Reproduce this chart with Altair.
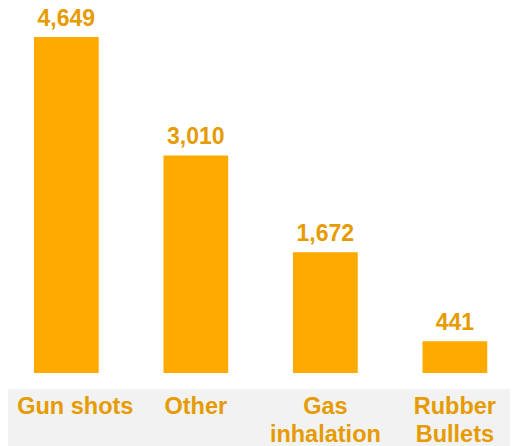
import altair as alt
import pandas as pd

categories = ["Gun shots", "Other", "Gas\ninhalation", "Rubber\nBullets"]
values = [4649, 3010, 1672, 441]
value_labels = ["4,649", "3,010", "1,672", "441"]

df = pd.DataFrame({"cat": categories, "value": values, "vlabel": value_labels})

FONT = "Liberation Sans"
BAR = "#FFAA00"
TXT = "#E69B00"

x = alt.X("cat:N", sort=categories, axis=None,
          scale=alt.Scale(paddingInner=0.5, paddingOuter=0.188, align=0.533))
y = alt.Y("value:Q", axis=None, scale=alt.Scale(domain=[0, 4912], nice=False))

band = alt.Chart(df).mark_rect(color="#F2F2F2", clip=False).encode(
    x=alt.value(-10), x2=alt.value(520), y=alt.value(371), y2=alt.value(450)
)

bars = alt.Chart(df).mark_bar(color=BAR).encode(x=x, y=y)

vals = alt.Chart(df).mark_text(
    font=FONT, fontSize=23, fontWeight="bold", color=TXT,
    baseline="alphabetic", dy=-11
).encode(x=x, y=y, text="vlabel:N")

base_cats = alt.Chart(df)
cats_first = base_cats.transform_filter(alt.datum.cat == categories[0]).mark_text(
    font=FONT, fontSize=23.5, fontWeight="bold", color=TXT,
    baseline="alphabetic", lineBreak="\n", lineHeight=28, dx=9
).encode(x=x, y=alt.value(396), text="cat:N")
cats_rest = base_cats.transform_filter(alt.datum.cat != categories[0]).mark_text(
    font=FONT, fontSize=23.5, fontWeight="bold", color=TXT,
    baseline="alphabetic", lineBreak="\n", lineHeight=28
).encode(x=x, y=alt.value(396), text="cat:N")

chart = alt.layer(band, bars, vals, cats_first, cats_rest).properties(
    width=502, height=355,
    autosize=alt.AutoSizeParams(type="none"),
    padding={"left": 0, "top": 10, "right": 0, "bottom": 80},
).configure_view(stroke=None)

chart.save("out.html", embed_options={"renderer": "svg", "actions": False})
